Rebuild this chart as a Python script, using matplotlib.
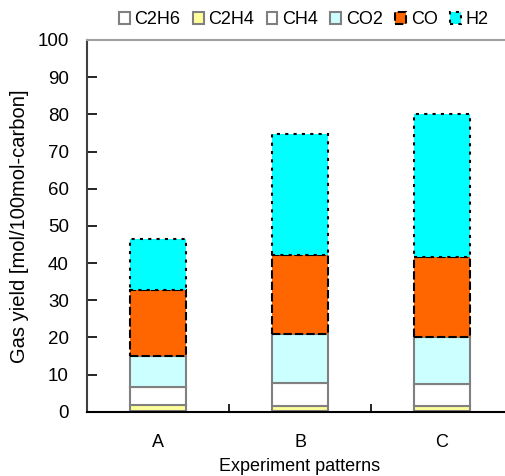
import matplotlib.pyplot as plt
import numpy as np

plt.rcParams["font.family"] = ["Liberation Sans", "DejaVu Sans"]

patterns = ["A", "B", "C"]
gases = ["C2H6", "C2H4", "CH4", "CO2", "CO", "H2"]
c2h6 = [0.1, 0.1, 0.1]
c2h4 = [1.7, 1.5, 1.5]
ch4 = [4.9, 6.2, 5.9]
co2 = [8.3, 13.0, 12.7]
co = [17.8, 21.4, 21.4]
h2 = [13.7, 32.5, 38.5]

values = [c2h6, c2h4, ch4, co2, co, h2]
faces = ["white", "#FFFF99", "white", "#CCFFFF", "#FF6600", "#00FFFF"]
edges = ["#808080", "#808080", "#808080", "#808080", "black", "black"]
styles = ["-", "-", "-", "-", (0, (4, 1.5)), (0, (1.5, 2.5))]

fig = plt.figure(figsize=(5.06, 4.76), dpi=100)
ax = fig.add_axes([87 / 506, 1 - 411.7 / 476, 426 / 506, 371.7 / 476])

x = np.arange(len(patterns))
bottom = np.zeros(len(patterns))
for name, vals, fc, ec, ls in zip(gases, values, faces, edges, styles):
    ax.bar(x, vals, 0.4, bottom=bottom, color=fc, edgecolor=ec,
           linewidth=1.5, linestyle=ls, label=name)
    bottom += np.array(vals)

ax.set_xlim(-0.5, 2.5)
ax.set_ylim(0, 100)
ax.set_yticks(range(0, 101, 10))
ax.set_xticks(x)
ax.set_xticklabels(patterns)
ax.set_xticks([0.5, 1.5], minor=True)
ax.tick_params(axis="x", which="major", length=0, labelsize=13, pad=16)
ax.tick_params(axis="x", which="minor", direction="in", length=6, width=1.2)
ax.tick_params(axis="y", direction="in", length=7, width=1.2, labelsize=13.5, pad=13)

ax.spines["left"].set_color("#404040")
ax.spines["left"].set_linewidth(1.5)
ax.spines["bottom"].set_color("black")
ax.spines["bottom"].set_linewidth(1.5)
ax.spines["top"].set_color("#A0A0A0")
ax.spines["top"].set_linewidth(1.5)
ax.spines["right"].set_visible(False)

ax.set_ylabel("Gas yield [mol/100mol-carbon]", fontsize=14.5, labelpad=6)
ax.set_xlabel("Experiment patterns", fontsize=13, labelpad=5)

fig.legend(loc="upper center", bbox_to_anchor=(0.6, 1.01), ncol=6,
           frameon=False, fontsize=13, handlelength=0.6, handleheight=0.6,
           handletextpad=0.25, columnspacing=0.7)

fig.savefig("out.png", dpi=100)
